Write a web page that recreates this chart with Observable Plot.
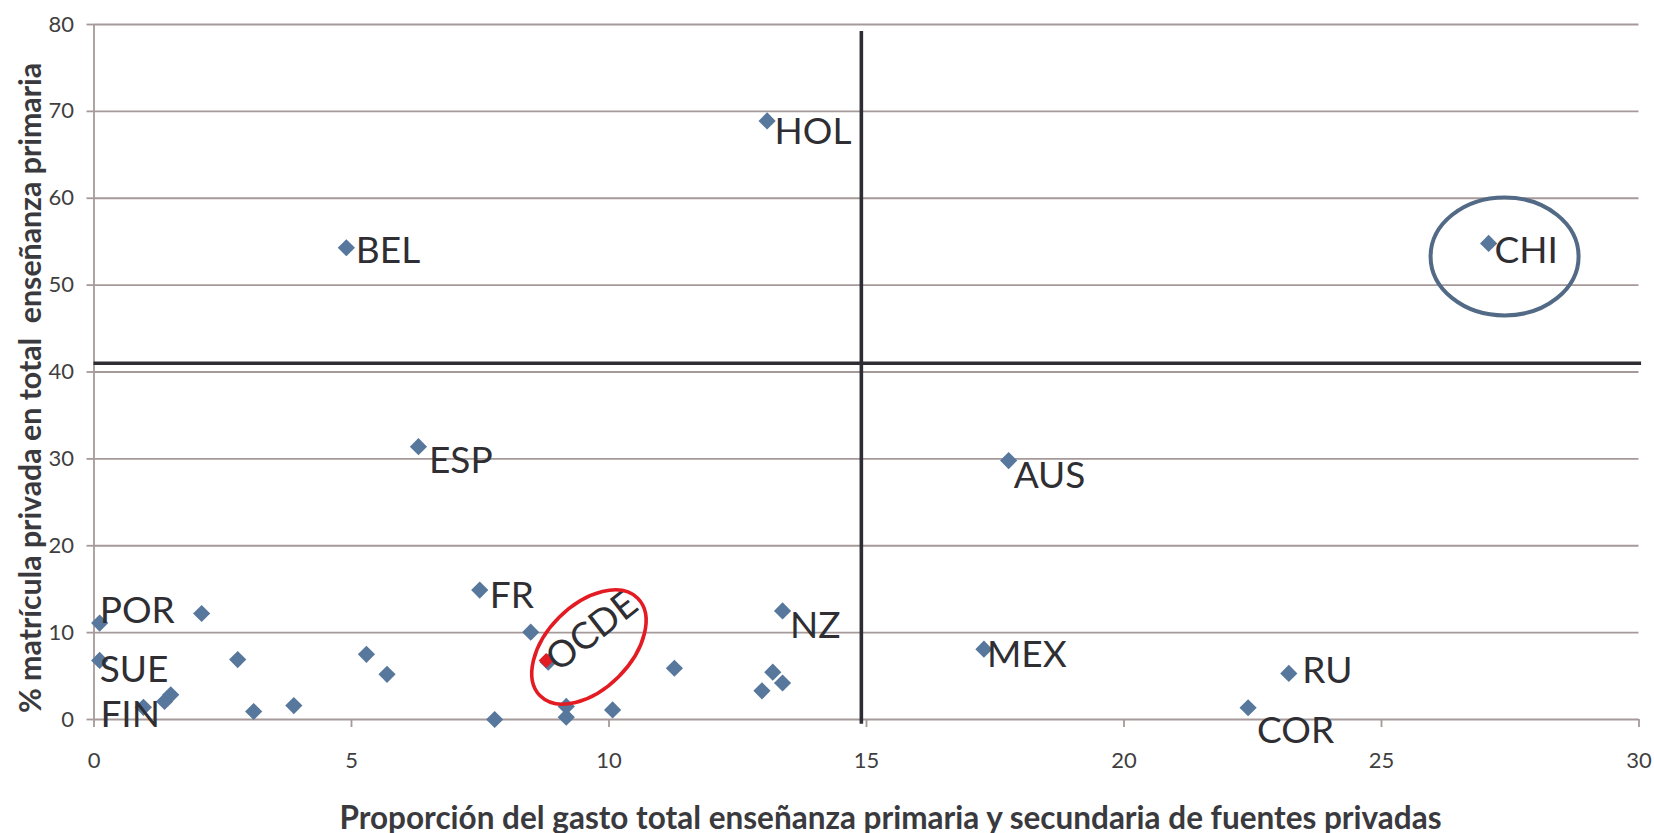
<!DOCTYPE html>
<html>
<head>
<meta charset="utf-8">
<script src="https://cdn.jsdelivr.net/npm/d3@7"></script>
<script src="https://cdn.jsdelivr.net/npm/@observablehq/plot@0.6"></script>
<style>
  html, body { margin: 0; padding: 0; background: #ffffff; }
  #chart svg { display: block; }
</style>
</head>
<body>
<div id="chart"></div>
<script>
// ---- Data ----
const labeledCountries = ["HOL", "BEL", "CHI", "ESP", "AUS", "POR", "SUE", "FIN", "FR", "NZ", "MEX", "RU", "COR"];
const labeledGasto     = [13.07, 4.90, 27.08, 6.30, 17.76, 0.11, 0.11, 0.96, 7.49, 13.37, 17.28, 23.20, 22.41];
const labeledMatricula = [68.9, 54.3, 54.8, 31.4, 29.8, 11.1, 6.8, 1.4, 14.9, 12.5, 8.1, 5.3, 1.35];

const otherGasto     = [2.09, 8.48, 2.79, 5.29, 5.69, 11.27, 13.18, 13.37, 12.97, 1.37, 1.49, 3.10, 3.88, 7.78, 9.17, 9.17, 10.07, 8.82];
const otherMatricula = [12.2, 10.05, 6.9, 7.5, 5.2, 5.9, 5.45, 4.2, 3.3, 2.07, 2.84, 0.92, 1.6, 0.0, 1.5, 0.27, 1.1, 6.6];

const oecdName = ["OCDE"];
const oecdGasto = [8.78];
const oecdMatricula = [6.8];

const xTicks = [0, 5, 10, 15, 20, 25, 30];
const yTicks = [0, 10, 20, 30, 40, 50, 60, 70, 80];

const refGasto = [14.9];      // vertical reference line
const refMatricula = [41];    // horizontal reference line

// highlight ellipses (centres in data units)
const chiCircleGasto = [27.39], chiCircleMatricula = [53.3];
const oecdCircleGasto = [9.61], oecdCircleMatricula = [8.34];

const xTitle = "Proporción del gasto total enseñanza primaria y secundaria de fuentes privadas";
const yTitle = "% matrícula privada en total  enseñanza primaria";

// ---- Layout / style (pixels) ----
const labelLayout = {
  HOL: [7.5, 11], BEL: [9.5, 3.5], CHI: [6, 8], ESP: [10.5, 14], AUS: [5, 16],
  POR: [0, -11.5], SUE: [0, 10], FIN: [-43, 8], FR: [10, 6], NZ: [7.5, 15],
  MEX: [3, 6.5], RU: [13.5, -2.5], COR: [9, 23.5]
};
const blue = "#57779c";
const red = "#e31b23";
const gridColor = "#a69999";
const textColor = "#2e2e33";

function diamondSymbol(h) {
  return { draw(ctx) { ctx.moveTo(0, -h); ctx.lineTo(h, 0); ctx.lineTo(0, h); ctx.lineTo(-h, 0); ctx.closePath(); } };
}
function ellipseSymbol(rx, ry) {
  const k = 0.5522847498;
  return { draw(ctx) {
    ctx.moveTo(rx, 0);
    ctx.bezierCurveTo(rx, ry * k, rx * k, ry, 0, ry);
    ctx.bezierCurveTo(-rx * k, ry, -rx, ry * k, -rx, 0);
    ctx.bezierCurveTo(-rx, -ry * k, -rx * k, -ry, 0, -ry);
    ctx.bezierCurveTo(rx * k, -ry, rx, -ry * k, rx, 0);
    ctx.closePath();
  } };
}

const idxLabeled = labeledCountries.map((_, i) => i);
const idxOther = otherGasto.map((_, i) => i);
const diamond = diamondSymbol(8.6);

const labelMarks = labeledCountries.map((name, i) => Plot.text([i], {
  x: j => labeledGasto[j], y: j => labeledMatricula[j], text: j => labeledCountries[j],
  textAnchor: "start", lineAnchor: "middle",
  dx: labelLayout[name][0], dy: labelLayout[name][1],
  fontSize: 37, fill: textColor
}));

const chart = Plot.plot({
  width: 1654,
  height: 833,
  marginLeft: 93.5,
  marginRight: 15.5,
  marginTop: 24,
  marginBottom: 114,
  style: { fontFamily: "Lato, 'Open Sans', sans-serif", background: "#ffffff", overflow: "visible" },
  x: { domain: [0, 30] },
  y: { domain: [0, 80] },
  marks: [
    Plot.gridY(yTicks, { stroke: gridColor, strokeOpacity: 1, strokeWidth: 1.8 }),
    Plot.ruleX([0], { stroke: gridColor, strokeWidth: 1.8 }),
    Plot.axisY(yTicks, { tickSize: 7, tickPadding: 13, fontSize: 22, stroke: gridColor, strokeWidth: 1.8, fill: "#3f3f3f", label: null }),
    Plot.axisX(xTicks, { tickSize: 8, tickPadding: 25, fontSize: 22, stroke: gridColor, strokeWidth: 1.8, fill: "#3f3f3f", label: null }),
    Plot.ruleX(refGasto, { y1: -0.55, y2: 79.2, stroke: "#2d2d33", strokeWidth: 3.6 }),
    Plot.ruleY(refMatricula, { x1: 0, x2: 30.05, stroke: "#2d2d33", strokeWidth: 3.6 }),
    Plot.dot(idxOther, { x: i => otherGasto[i], y: i => otherMatricula[i], symbol: diamond, fill: blue, stroke: "none" }),
    Plot.dot(idxLabeled, { x: i => labeledGasto[i], y: i => labeledMatricula[i], symbol: diamond, fill: blue, stroke: "none" }),
    Plot.dot([0], { x: i => oecdGasto[i], y: i => oecdMatricula[i], symbol: diamondSymbol(7.5), fill: red, stroke: "none" }),
    ...labelMarks,
    Plot.text([0], { x: i => oecdGasto[i], y: i => oecdMatricula[i], text: i => oecdName[i],
      rotate: -38, textAnchor: "middle", lineAnchor: "middle", dx: 46, dy: -29, fontSize: 37, fill: textColor }),
    Plot.dot([0], { x: i => chiCircleGasto[i], y: i => chiCircleMatricula[i], symbol: ellipseSymbol(74, 59),
      fill: "none", stroke: "#526a85", strokeWidth: 4 }),
    Plot.dot([0], { x: i => oecdCircleGasto[i], y: i => oecdCircleMatricula[i], symbol: ellipseSymbol(69, 42),
      rotate: -45, fill: "none", stroke: red, strokeWidth: 3.6 }),
    Plot.text([xTitle], { frameAnchor: "bottom", lineAnchor: "middle", textAnchor: "middle",
      dx: 24, dy: 99, fontSize: 31.5, fontWeight: "bold", fill: "#3a3a3e" }),
    Plot.text([yTitle], { frameAnchor: "left", lineAnchor: "middle", textAnchor: "middle", rotate: -90,
      dx: -63, dy: 16, fontSize: 30.3, fontWeight: "bold", fill: "#3a3a3e" })
  ]
});
document.getElementById("chart").appendChild(chart);
</script>
</body>
</html>
